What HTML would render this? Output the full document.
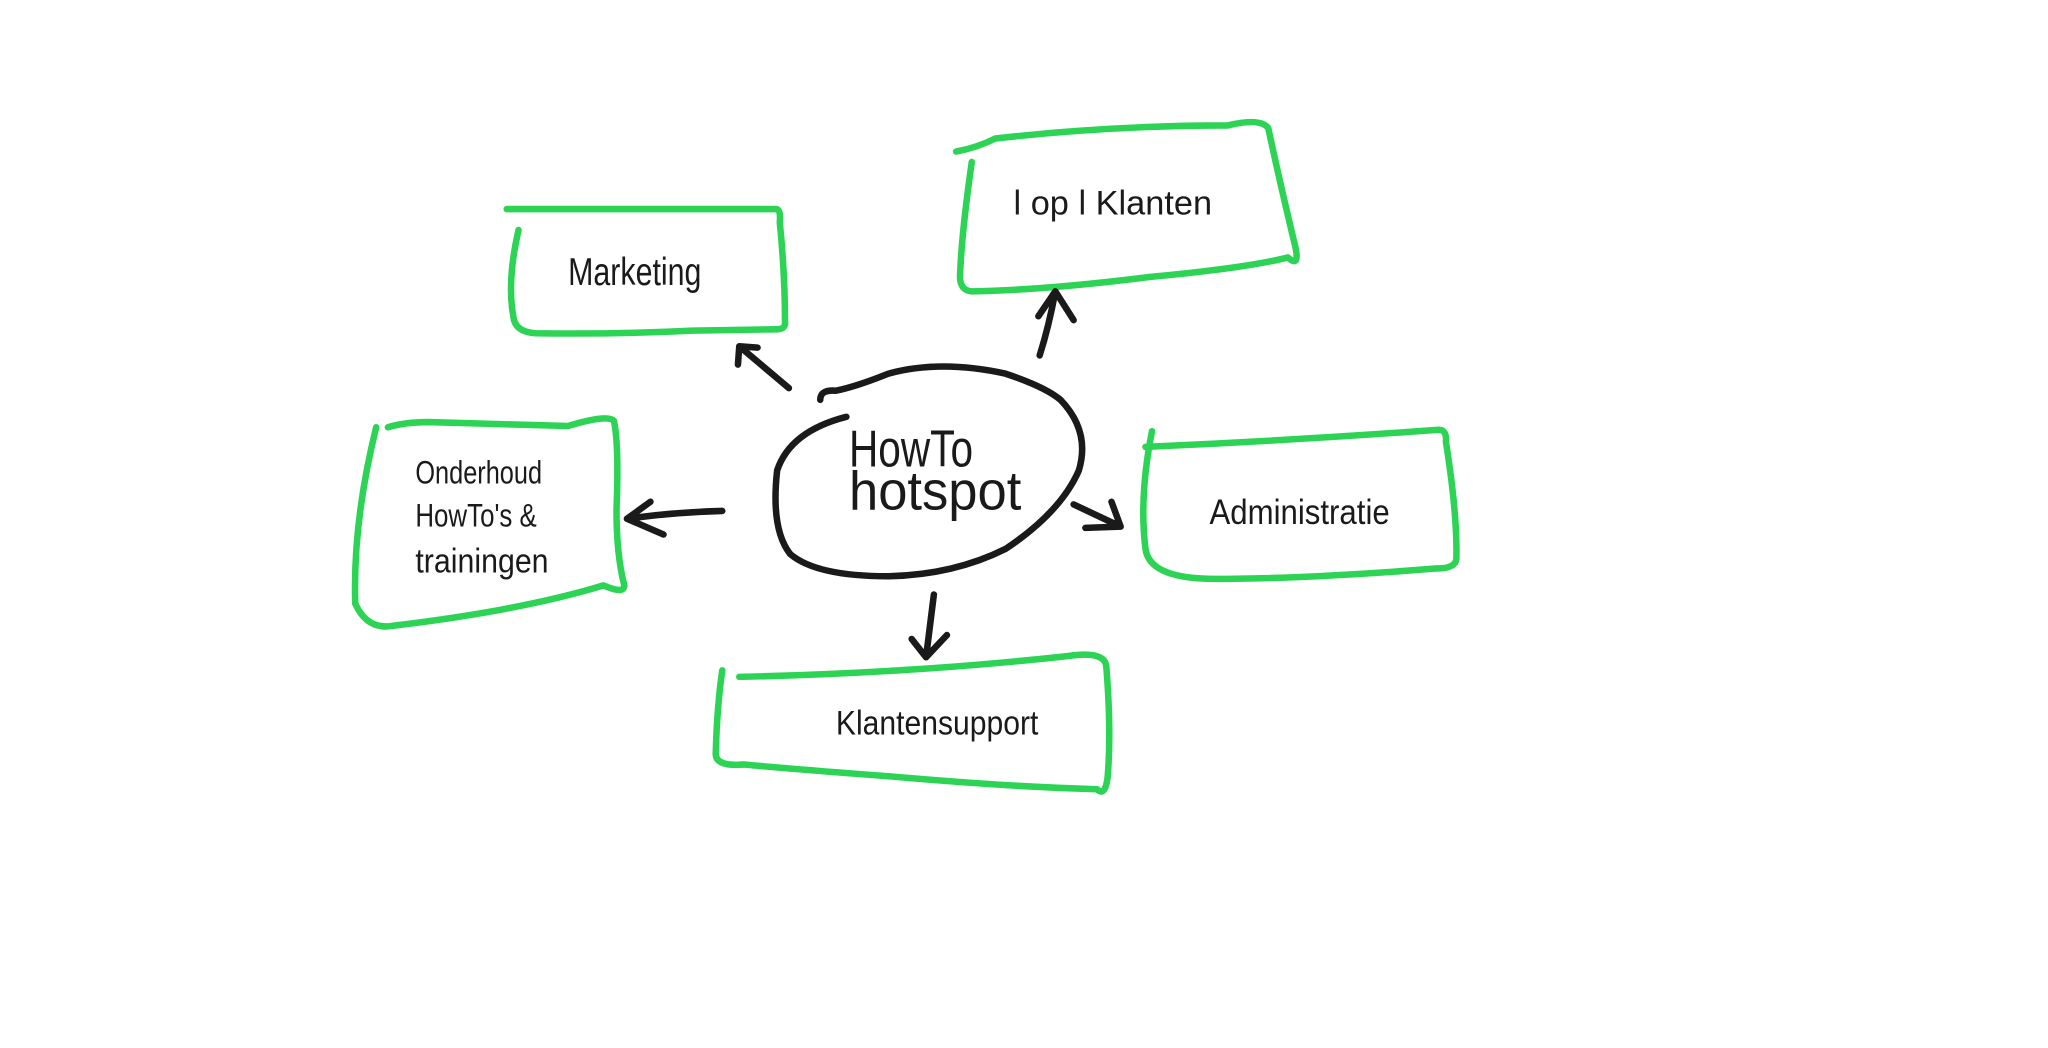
<!DOCTYPE html>
<html><head><meta charset="utf-8"><style>
html,body{margin:0;padding:0;background:#fff;}
svg{display:block}
text{font-family:"Liberation Sans Narrow","Liberation Sans",sans-serif;fill:#1a1a1a;}
</style></head><body>
<svg width="2048" height="1048" viewBox="0 0 1568 802" preserveAspectRatio="none" xmlns="http://www.w3.org/2000/svg">
<rect width="1568" height="802" fill="#fff"/>
<g fill="none" stroke="#2dd355" stroke-width="5" stroke-linecap="round" stroke-linejoin="round">
<path d="M388,160 L594,160 Q598,160 597,170 Q601,210 601,246 Q602,252 594,252 L530,253 Q470,256 410,255 Q394,254 393,242 Q388,215 397,176"/>
<path d="M732,116 Q748,113 762,106 Q850,96 940,96 Q965,90 971,98 Q980,140 992,190 Q995,205 986,197 Q955,205 880,212 Q800,222 744,223 Q735,222 735,212 Q736,180 744,124"/>
<path d="M297,327 Q310,323 328,323 L435,326 Q465,317 470,322 Q474,340 472,390 Q472,425 478,448 Q478,455 462,448 Q400,467 300,479 Q281,482 272,462 Q270,400 288,327"/>
<path d="M877,342 Q990,337 1100,329 Q1108,328 1107,338 Q1116,395 1115,428 Q1114,435 1100,435 Q1000,443 930,443 Q880,443 877,420 Q872,380 882,330"/>
<path d="M566,518 Q700,515 818,502 Q846,498 847,510 Q851,560 848,595 Q846,610 840,604 Q770,602 680,594 Q600,588 570,585 Q547,587 548,576 Q549,540 553,513"/>
</g>
<g fill="none" stroke="#1a1a1a" stroke-width="5" stroke-linecap="round" stroke-linejoin="round">
<path d="M628,306 Q628,298 640,299 Q655,296 680,286 Q720,275 770,286 Q800,296 812,306 Q835,330 826,360 Q812,392 770,420 Q730,440 680,441 Q625,441 605,424 Q590,405 595,360 Q605,330 648,319"/>
<path d="M604,297 L566,265 M566,265 L565,279 M566,265 L580,266"/>
<path d="M796,272 Q803,250 808,223 M808,223 L795,242 M808,223 L822,245"/>
<path d="M553,391 Q515,392 480,397 M480,397 L498,384 M480,397 L508,409"/>
<path d="M822,386 L858,403 M858,403 L851,384 M858,403 L831,404"/>
<path d="M715,455 L709,503 M709,503 L698,489 M709,503 L725,486"/>
</g>
<text x="650" y="357" font-size="40" textLength="95" lengthAdjust="spacingAndGlyphs">HowTo</text>
<text x="650" y="390" font-size="42" textLength="132" lengthAdjust="spacingAndGlyphs">hotspot</text>
<text x="435" y="218" font-size="30" textLength="102" lengthAdjust="spacingAndGlyphs">Marketing</text>
<text x="776" y="164" font-size="26" textLength="152" lengthAdjust="spacingAndGlyphs">l op l  Klanten</text>
<text x="318" y="370" font-size="25" textLength="97" lengthAdjust="spacingAndGlyphs">Onderhoud</text>
<text x="318" y="403" font-size="25" textLength="93" lengthAdjust="spacingAndGlyphs">HowTo's &amp;</text>
<text x="318" y="438" font-size="26" textLength="102" lengthAdjust="spacingAndGlyphs">trainingen</text>
<text x="926" y="401" font-size="27" textLength="138" lengthAdjust="spacingAndGlyphs">Administratie</text>
<text x="640" y="562" font-size="26" textLength="155" lengthAdjust="spacingAndGlyphs">Klantensupport</text>
</svg>
</body></html>
